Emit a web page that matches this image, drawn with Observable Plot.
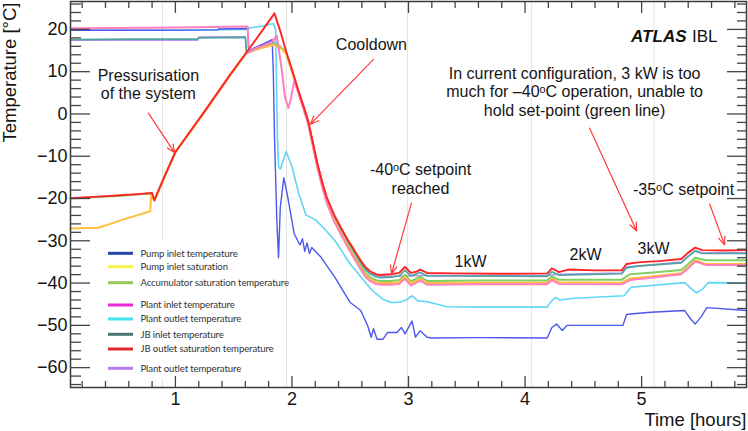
<!DOCTYPE html>
<html><head><meta charset="utf-8">
<script src="https://cdn.jsdelivr.net/npm/d3@7"></script>
<script src="https://cdn.jsdelivr.net/npm/@observablehq/plot@0.6"></script>
<style>html,body{margin:0;padding:0;background:#fff;} svg{display:block}</style>
</head><body><div id="chart"></div>
<script>
// ---- data (time in hours, temperature in °C) ----
const pumpInletTemp = [[0.10,19.8],[0.80,19.8],[1.36,19.9],[1.37,20.1],[1.62,20.2],[1.63,14.8],[1.70,15.8],[1.83,17.6],[1.84,10],[1.85,-5],[1.87,-25],[1.885,-34.0],[1.90,-22],[1.93,-15.1],[1.96,-19],[2.02,-28.4],[2.05,-30],[2.07,-31],[2.09,-29.5],[2.11,-32.5],[2.13,-30.5],[2.15,-33],[2.17,-31.6],[2.25,-33.9],[2.37,-38.7],[2.50,-44.6],[2.59,-46.5],[2.65,-50.1],[2.68,-52.8],[2.70,-50.8],[2.73,-53.3],[2.78,-53.3],[2.82,-51.7],[2.90,-51.7],[2.94,-50.5],[2.97,-52.0],[3.03,-49.0],[3.06,-52.8],[3.10,-51.3],[3.16,-52.8],[3.20,-53.0],[3.60,-52.9],[4.19,-53.0],[4.23,-50.5],[4.27,-49.7],[4.32,-51.2],[4.36,-50.0],[4.42,-50.0],[4.84,-50.0],[4.87,-47.5],[4.90,-47.3],[5.08,-46.9],[5.37,-46.5],[5.42,-48.5],[5.46,-49.7],[5.51,-48.0],[5.56,-45.8],[5.90,-46.5]];
const pumpInletSat = [[0.10,-27.1],[0.34,-26.9],[0.55,-25.0],[0.785,-23.0],[0.79,-19.4],[0.82,-20.5],[0.90,-15.3],[1.00,-9.1],[1.25,0.5],[1.47,9.2],[1.61,14.5],[1.70,15.3],[1.84,16.3],[1.90,15.7],[1.95,14.3],[2.00,10.0],[2.05,5.5],[2.10,1.2],[2.14,-2.3],[2.18,-7.5],[2.22,-12.7],[2.26,-17.1],[2.30,-20.9],[2.36,-25.0],[2.42,-28.2],[2.48,-31.3],[2.53,-33.7],[2.59,-36.5],[2.63,-38.1],[2.67,-39.1],[2.72,-39.8],[2.76,-40.0],[2.85,-40.0],[2.92,-39.8],[2.97,-38.5],[3.02,-40.1],[3.10,-39.0],[3.16,-40.0],[3.60,-39.9],[4.19,-39.9],[4.23,-38.9],[4.29,-39.8],[4.83,-39.9],[4.90,-38.9],[5.10,-38.4],[5.34,-37.7],[5.40,-36.2],[5.46,-34.6],[5.55,-35.5],[5.90,-35.5]];
const accumulatorSat = [[0.10,-20.0],[0.50,-19.4],[0.80,-18.8],[0.82,-20.5],[0.90,-15.3],[1.00,-9.1],[1.25,0.5],[1.47,9.2],[1.61,14.5],[1.70,15.5],[1.84,16.6],[1.90,15.9],[1.95,14.4],[2.00,10.1],[2.05,5.6],[2.10,1.4],[2.14,-2.1],[2.18,-7.2],[2.22,-12.4],[2.26,-16.8],[2.30,-20.5],[2.36,-24.6],[2.42,-27.8],[2.48,-30.9],[2.53,-33.2],[2.59,-36.0],[2.63,-37.6],[2.67,-38.6],[2.72,-39.3],[2.76,-39.5],[2.85,-39.5],[2.92,-39.3],[2.97,-38.0],[3.02,-39.6],[3.10,-38.5],[3.16,-39.5],[3.60,-39.4],[4.19,-39.4],[4.23,-38.4],[4.29,-39.2],[4.83,-39.2],[4.90,-37.9],[5.10,-37.5],[5.34,-36.9],[5.40,-35.5],[5.46,-34.0],[5.55,-34.6],[5.90,-34.6]];
const plantInletTemp = [[0.10,20.3],[0.80,20.4],[1.20,20.5],[1.62,20.7],[1.63,14.6],[1.70,15.6],[1.82,16.8],[1.87,18.5],[1.91,11.0],[1.94,4.0],[1.97,1.4],[1.99,3.5],[2.02,7.8],[2.05,5.4],[2.10,1.1],[2.14,-2.5],[2.18,-7.7],[2.22,-12.9],[2.26,-17.3],[2.30,-21.1],[2.36,-25.3],[2.42,-28.5],[2.48,-31.6],[2.53,-34.0],[2.59,-36.8],[2.63,-38.5],[2.67,-39.5],[2.72,-40.2],[2.76,-40.4],[2.85,-40.4],[2.92,-40.2],[2.97,-39.0],[3.02,-40.6],[3.10,-39.4],[3.16,-40.4],[3.60,-40.3],[4.19,-40.3],[4.23,-39.3],[4.29,-40.2],[4.83,-40.3],[4.90,-39.3],[5.10,-38.7],[5.34,-37.9],[5.40,-36.5],[5.46,-34.9],[5.55,-35.7],[5.90,-35.7]];
const plantOutletTemp = [[0.10,19.8],[1.00,19.8],[1.62,20.0],[1.63,20.3],[1.75,20.8],[1.84,21.4],[1.86,20.0],[1.875,-5.0],[1.885,-12.5],[1.90,-13.0],[1.95,-8.9],[2.00,-12.5],[2.06,-19.0],[2.12,-23.9],[2.20,-25.0],[2.28,-27.2],[2.37,-30.0],[2.50,-35.5],[2.62,-39.5],[2.69,-41.8],[2.78,-43.8],[2.85,-44.6],[2.93,-44.5],[2.98,-44.0],[3.03,-43.0],[3.08,-44.2],[3.16,-44.4],[3.33,-45.6],[3.60,-45.7],[4.19,-45.7],[4.22,-44.5],[4.26,-43.4],[4.30,-44.0],[4.42,-43.6],[4.85,-43.0],[4.91,-41.0],[5.37,-39.9],[5.42,-41.2],[5.47,-42.3],[5.52,-41.5],[5.57,-39.9],[5.90,-40.0]];
const jbInletTemp = [[0.10,17.6],[0.60,17.7],[1.19,17.7],[1.20,18.0],[1.60,18.1],[1.61,14.3],[1.70,15.4],[1.84,16.5],[1.90,15.8],[1.95,14.5],[2.00,10.3],[2.05,5.8],[2.10,1.6],[2.14,-1.9],[2.18,-7.0],[2.22,-12.1],[2.26,-16.4],[2.30,-20.1],[2.36,-24.1],[2.42,-27.3],[2.48,-30.2],[2.53,-32.5],[2.59,-35.2],[2.63,-36.8],[2.67,-37.8],[2.72,-38.5],[2.76,-38.7],[2.85,-38.6],[2.92,-38.3],[2.97,-37.0],[3.02,-38.3],[3.10,-37.5],[3.16,-38.3],[4.19,-38.4],[4.23,-37.3],[4.29,-38.1],[4.83,-37.8],[4.87,-36.4],[4.97,-36.0],[5.34,-35.2],[5.40,-33.7],[5.46,-32.4],[5.52,-33.0],[5.90,-33.0]];
const jbOutletSat = [[0.10,-19.9],[0.30,-19.6],[0.50,-19.3],[0.70,-18.9],[0.80,-18.7],[0.82,-20.4],[0.90,-15.2],[1.00,-9.0],[1.25,0.6],[1.47,9.3],[1.63,15.3],[1.75,19.9],[1.85,23.8],[1.90,19.6],[1.95,14.8],[2.00,10.5],[2.05,6.0],[2.10,1.8],[2.14,-1.7],[2.18,-6.8],[2.22,-11.9],[2.26,-16.2],[2.30,-19.8],[2.36,-23.8],[2.42,-26.9],[2.48,-29.8],[2.53,-32.0],[2.59,-34.7],[2.63,-36.2],[2.67,-37.2],[2.72,-37.9],[2.76,-38.1],[2.85,-37.9],[2.92,-37.6],[2.97,-36.2],[3.02,-37.6],[3.07,-37.3],[3.10,-36.8],[3.16,-37.6],[3.40,-37.7],[3.80,-37.8],[4.19,-37.7],[4.23,-36.5],[4.29,-37.4],[4.37,-36.8],[4.60,-37.0],[4.83,-37.0],[4.87,-35.5],[4.97,-35.1],[5.15,-34.8],[5.34,-34.3],[5.40,-32.8],[5.46,-31.6],[5.52,-32.2],[5.70,-32.3],[5.90,-32.2]];
const plantOutletTemp2 = [[0.10,17.4],[1.19,17.4],[1.20,18.2],[1.60,18.3],[1.61,14.8],[1.70,16.0],[1.83,17.3],[1.90,16.0],[1.95,14.6],[2.00,10.4],[2.05,5.9],[2.10,1.7],[2.14,-1.8],[2.22,-12.0],[2.30,-20.0],[2.42,-27.1],[2.53,-32.3],[2.59,-35.0],[2.67,-37.6],[2.76,-38.5],[2.85,-38.4],[3.16,-38.2],[4.19,-38.2],[4.29,-37.9],[4.83,-37.6],[4.87,-36.2],[5.34,-35.0],[5.46,-32.3],[5.52,-32.8],[5.90,-32.8]];

const legendLabels = ["Pump inlet temperature","Pump inlet saturation","Accumulator saturation temperature","Plant inlet temperature","Plant outlet temperature","JB inlet temperature","JB outlet saturation temperature","Plant outlet temperature"];
const yMajor = [-60,-50,-40,-30,-20,-10,0,10,20];
const xMajor = [1,2,3,4,5];
const gridX = [0.889,1.953,2.991,4.056,5.107];

const annotations = [
  {x:0.768, y:7.1, text:"Pressurisation\nof the system"},
  {x:2.682, y:16.46, text:"Cooldown"},
  {x:4.425, y:5.37, text:"In current configuration, 3 kW is too\nmuch for \u201340\u1D52C operation, unable to\nhold set-point (green line)"},
  {x:3.103, y:-15.28, text:"-40\u1D52C setpoint\nreached"},
  {x:5.36, y:-17.76, text:"-35\u1D52C setpoint"},
  {x:3.532, y:-34.75, text:"1kW"},
  {x:4.519, y:-33.1, text:"2kW"},
  {x:5.103, y:-31.7, text:"3kW"}
];
const arrows = [
  {x1:0.768, y1:0.18, x2:0.994, y2:-9.19},
  {x1:2.70, y1:12.9, x2:2.159, y2:-2.42},
  {x1:4.554, y1:-3.36, x2:4.957, y2:-27.67},
  {x1:3.026, y1:-21.05, x2:2.854, y2:-37.8},
  {x1:5.584, y1:-21.3, x2:5.712, y2:-30.97}
];

// ---- styles ----
const seriesList = [
  {data: plantOutletTemp2, color:"#b893f0", width:1.4, legend:"#b77ce8"},
  {data: plantOutletTemp, color:"#5fd6f4", width:1.6, legend:"#44e2ee"},
  {data: pumpInletTemp, color:"#4c57ee", width:1.4, legend:"#2346a8"},
  {data: jbInletTemp, color:"#4fa3a3", width:1.7, legend:"#4a7376"},
  {data: accumulatorSat, color:"#7fcf62", width:2.0, legend:"#97c75a"},
  {data: pumpInletSat, color:"#ffbf3c", width:2.0, legend:"#f6f24a"},
  {data: plantInletTemp, color:"#ff7fbd", width:2.0, legend:"#e72ad8"},
  {data: jbOutletSat, color:"#ff2424", width:1.9, legend:"#d8282a"}
];
const legendOrder = [2,5,4,6,1,3,7,0];

const F = "Liberation Sans, Arial, Helvetica, sans-serif";
const yMinor = d3.range(-64, 27, 2).filter(v => v % 10 !== 0);
const xMinor = d3.range(1, 30).map(i => +(i * 0.2).toFixed(1)).filter(v => Math.abs(v - Math.round(v)) > 1e-6);

const tickStyle = {stroke:"#444", strokeWidth:1.3};
const noText = () => "";
const chart = Plot.plot({
  width: 748, height: 431,
  marginLeft: 70, marginRight: 2, marginTop: 1, marginBottom: 44,
  x: {domain: [0.1, 5.9]},
  y: {domain: [-64.7, 26.6]},
  style: {fontFamily: F, background: "#fff", color: "#222"},
  marks: [
    Plot.ruleX(gridX, {stroke:"#e3e3e3", strokeWidth:1}),
    ...seriesList.map(s => Plot.line(s.data.map(([x, y]) => ({x, y})), {x:"x", y:"y", stroke:s.color, strokeWidth:s.width, strokeLinejoin:"round"})),
    Plot.frame({stroke:"#3a3a3a", strokeWidth:1.5}),
    // tick labels (no tick lines)
    Plot.axisY({anchor:"left", ticks:yMajor, tickSize:0, tickPadding:3, fontSize:18, label:null, fill:"#151515"}),
    Plot.axisX({anchor:"bottom", ticks:xMajor, tickSize:0, tickPadding:5, fontSize:18, label:null, tickFormat:d => String(d), fill:"#151515"}),
    // inward tick marks
    Plot.axisY({anchor:"left", ticks:yMajor, tickSize:-20, tickFormat:noText, label:null, ...tickStyle}),
    Plot.axisY({anchor:"left", ticks:yMinor, tickSize:-11, tickFormat:noText, label:null, ...tickStyle}),
    Plot.axisY({anchor:"right", ticks:yMajor, tickSize:-20, tickFormat:noText, label:null, ...tickStyle}),
    Plot.axisY({anchor:"right", ticks:yMinor, tickSize:-10, tickFormat:noText, label:null, ...tickStyle}),
    Plot.axisX({anchor:"bottom", ticks:xMajor, tickSize:-11, tickFormat:noText, label:null, ...tickStyle}),
    Plot.axisX({anchor:"bottom", ticks:xMinor, tickSize:-6, tickFormat:noText, label:null, ...tickStyle}),
    Plot.axisX({anchor:"top", ticks:xMajor, tickSize:-11, tickFormat:noText, label:null, ...tickStyle}),
    Plot.axisX({anchor:"top", ticks:xMinor, tickSize:-6, tickFormat:noText, label:null, ...tickStyle}),
    Plot.arrow(arrows, {x1:"x1", y1:"y1", x2:"x2", y2:"y2", stroke:"#ff3a3a", strokeWidth:1.2, headLength:11, headAngle:45}),
    Plot.text(annotations, {x:"x", y:"y", text:"text", fontSize:16, lineHeight:1.17, fill:"#151515"}),
    Plot.text(["Temperature [°C]"], {frameAnchor:"top-left", rotate:-90, textAnchor:"end", dx:-68, dy:1, fontSize:18.5, fill:"#151515"}),
    Plot.text(["Time [hours]"], {frameAnchor:"bottom-right", textAnchor:"end", dx:0, dy:38, fontSize:18.5, fill:"#151515"}),
    Plot.text(["ATLAS"], {frameAnchor:"top-right", textAnchor:"end", dx:-60, dy:28.6, fontSize:17, fontWeight:"bold", fontStyle:"italic", fill:"#111"}),
    Plot.text(["IBL"], {frameAnchor:"top-right", textAnchor:"end", dx:-29, dy:28.6, fontSize:17, fill:"#111"})
  ]
});
document.getElementById("chart").appendChild(chart);

// ---- in-plot legend ----
const svg = d3.select(chart);
svg.insert("rect", "g[aria-label='line']")
  .attr("x", 100).attr("y", 240).attr("width", 172).attr("height", 138).attr("fill", "#fff");
const legendRowsY = [253.3, 266.7, 282.7, 305, 319, 334.3, 349, 368.3];
const lg = svg.append("g").attr("font-family", "Lato, 'Open Sans', sans-serif").attr("font-size", 9.6)
  .attr("letter-spacing", "-0.12px").attr("fill", "#333").attr("text-anchor", "start");
legendLabels.forEach((lab, i) => {
  const s = seriesList[legendOrder[i]];
  const y = legendRowsY[i];
  lg.append("line").attr("x1", 108).attr("x2", 133).attr("y1", y).attr("y2", y)
    .attr("stroke", s.legend).attr("stroke-width", 3);
  lg.append("text").attr("x", 140.5).attr("y", y).attr("dy", "0.35em").text(lab);
});
</script>
</body></html>
